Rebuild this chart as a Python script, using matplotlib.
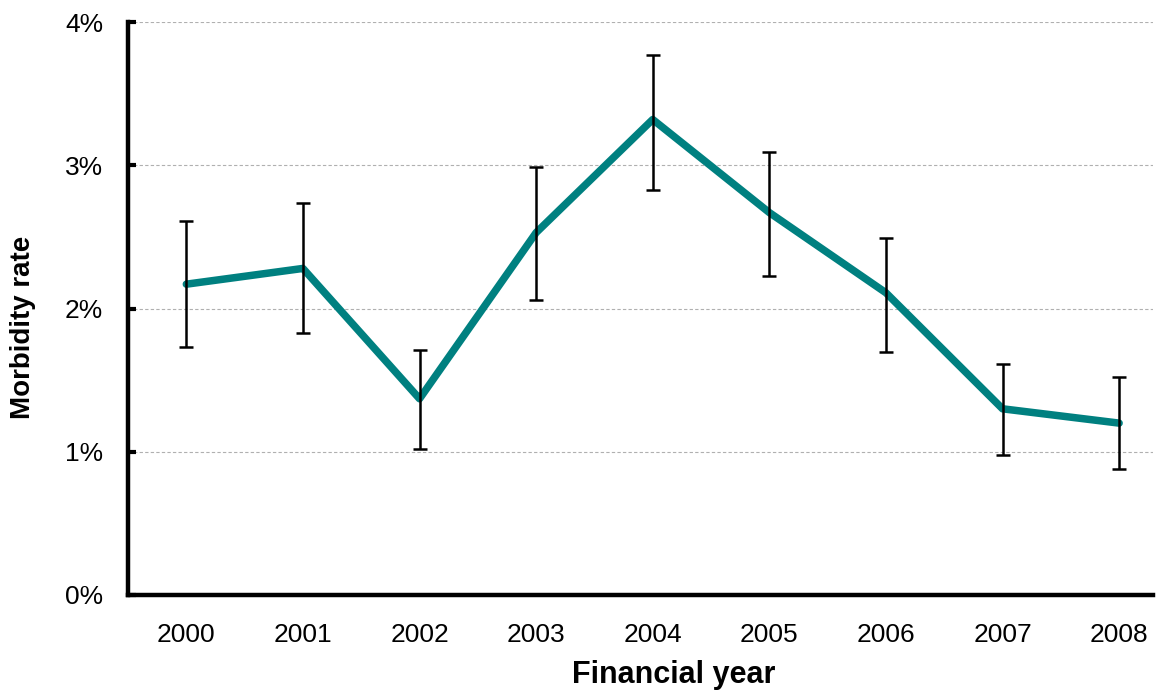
import matplotlib
matplotlib.use("Agg")
import matplotlib.pyplot as plt
from matplotlib.ticker import FuncFormatter

plt.rcParams["font.family"] = ["Liberation Sans", "DejaVu Sans"]

years = ["2000", "2001", "2002", "2003", "2004", "2005", "2006", "2007", "2008"]
rate = [2.17, 2.28, 1.37, 2.53, 3.32, 2.67, 2.11, 1.30, 1.20]
upper = [2.61, 2.74, 1.71, 2.99, 3.77, 3.09, 2.49, 1.61, 1.52]
lower = [1.73, 1.83, 1.02, 2.06, 2.83, 2.23, 1.70, 0.98, 0.88]

err_low = [r - lo for r, lo in zip(rate, lower)]
err_high = [hi - r for r, hi in zip(rate, upper)]
x = list(range(len(years)))

fig = plt.figure(figsize=(11.66, 6.9), dpi=100)
ax = fig.add_axes([0.1098, 0.1377, 0.879, 0.8303])

ax.plot(x, rate, color="#008080", linewidth=5.4, solid_capstyle="round", zorder=2)
ax.errorbar(x, rate, yerr=[err_low, err_high], fmt="none", ecolor="black",
            elinewidth=1.8, capsize=4.8, capthick=1.8, zorder=3)

ax.set_xlim(-0.5, 8.29)
ax.set_ylim(0, 4)
ax.set_xticks(x)
ax.set_xticklabels(years)
ax.set_yticks([0, 1, 2, 3, 4])
ax.yaxis.set_major_formatter(FuncFormatter(lambda v, _: f"{v:.0f}%"))

ax.grid(axis="y", color="#b0b0b0", linestyle=(0, (3, 2)), linewidth=0.8, zorder=0)
ax.set_axisbelow(True)

for side in ["top", "right"]:
    ax.spines[side].set_visible(False)
for side in ["left", "bottom"]:
    ax.spines[side].set_linewidth(3.2)

ax.tick_params(axis="x", length=0, labelsize=19, pad=20)
ax.tick_params(axis="y", direction="in", length=6, width=3, labelsize=19, pad=18)

fig.text(674 / 1166, 7 / 690, "Financial year", fontsize=22, fontweight="bold",
         ha="center", va="baseline")
fig.text(23 / 1166, 0.526, "Morbidity rate", fontsize=20, fontweight="bold",
         ha="center", va="center", rotation=90)

fig.savefig("out.png", dpi=100, facecolor="white")
